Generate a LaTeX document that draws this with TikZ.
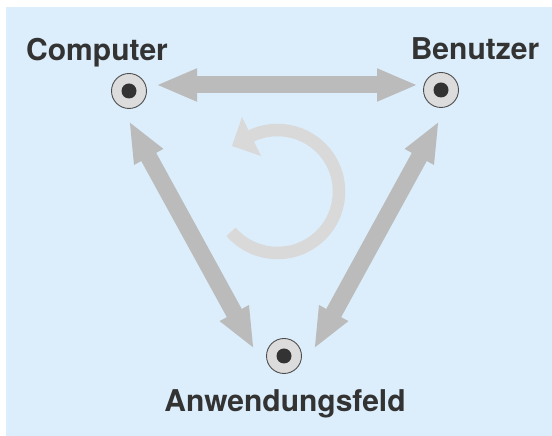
\documentclass[tikz,border=0pt]{standalone}
\usepackage{fontspec}
\setsansfont{TeX Gyre Heros}
\usetikzlibrary{arrows.meta}
\definecolor{bgblue}{HTML}{DCEEFB}
\definecolor{arrowgray}{HTML}{BBBBBB}
\definecolor{cyclegray}{HTML}{D9D9D9}
\definecolor{ringfill}{HTML}{DCDCDC}
\definecolor{ringline}{HTML}{4D4D4D}
\definecolor{darktext}{HTML}{333333}
\tikzset{
	station/.style={circle, draw=ringline, line width=0.9pt, fill=ringfill, minimum size=35pt, inner sep=0pt,
		path picture={\fill[darktext] (path picture bounding box.center) circle (7.5pt);}},
	caption/.style={anchor=base, text=darktext, font=\fontsize{30}{36}\selectfont\sffamily\bfseries, inner sep=0pt},
	bigarrow/.style={draw=arrowgray, line width=17pt, {Triangle[length=41pt,width=30pt]}-{Triangle[length=41pt,width=30pt]}}
}
\begin{document}
\begin{tikzpicture}[x=1pt,y=1pt]
			\useasboundingbox (0,0) rectangle (552,436);
			\fill [bgblue] (6,0) rectangle (552,429);
			\node [station] (comp) at (129,345) {};
			\node [station] (benu) at (441,346) {};
			\node [station] (anw) at (284,80) {};
			\node [caption] (lcomp) at (97,375) {Computer};
			\node [caption] (lbenu) at (475,376) {Benutzer};
			\node [caption] (lanw) at (285,24) {Anwendungsfeld};
			\draw [bigarrow] ([xshift=27pt,yshift=6pt]comp.center) -- ([xshift=-23pt,yshift=5pt]benu.center);
			\draw [bigarrow] ([yshift=-30pt]comp.center) -- ([xshift=-30pt,yshift=7pt]anw.center);
			\draw [bigarrow] ([xshift=-2pt,yshift=-31pt]benu.center) -- ([xshift=30pt,yshift=7pt]anw.center);
			\coordinate (cyc) at (277.5,244.5);
			\draw [cyclegray, line width=12.5pt] ([shift={(221:61.5)}]cyc) arc [start angle=221, end angle=488, radius=61.5];
			\fill [cyclegray] (242,319) -- (232,290) -- (261,280) -- cycle;
		\end{tikzpicture}
\end{document}
